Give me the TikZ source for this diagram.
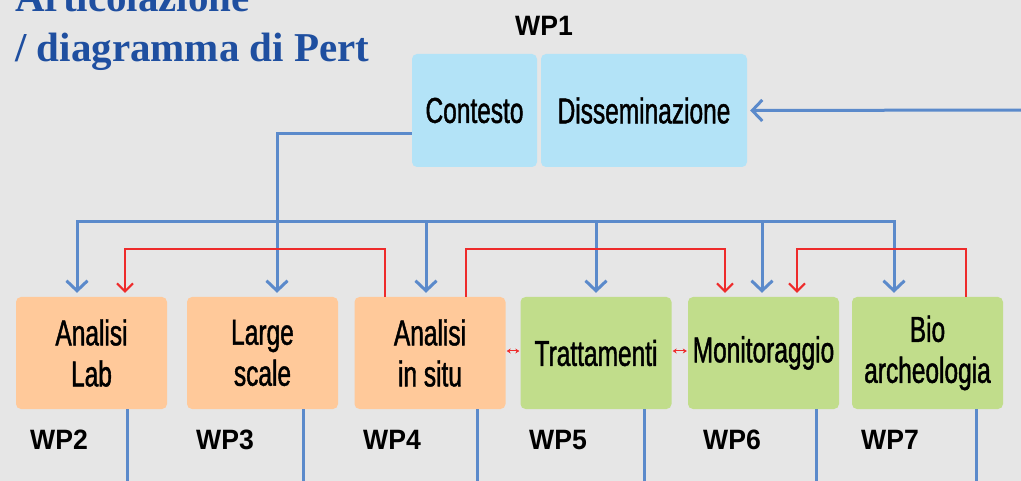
\documentclass[tikz,border=0pt]{standalone}
\usepackage{fontspec}
\usepackage{xcolor}
\usepackage{tikz}
\usetikzlibrary{arrows.meta,positioning,calc}
\setmainfont{Liberation Sans}
\newfontfamily\boxfont[FakeStretch=0.68,FakeBold=1.2]{Liberation Sans}
\newfontfamily\wpfont[FakeStretch=0.95]{Liberation Sans}
\newfontfamily\titlefont{Liberation Serif}
\definecolor{pertBg}{HTML}{E6E6E6}
\definecolor{pertTitle}{HTML}{1F4FA0}
\definecolor{pertBlue}{HTML}{5B8ACB}
\definecolor{pertRed}{HTML}{EE2B2B}
\definecolor{pertSky}{HTML}{B3E3F7}
\definecolor{pertPeach}{HTML}{FFC99A}
\definecolor{pertGreen}{HTML}{C1DD8B}

\begin{document}
\begin{tikzpicture}[x=1pt,y=-1pt,
  wp/.style={rounded corners=5pt, inner sep=0pt, align=center,
    minimum width=151pt, minimum height=112pt,
    font=\boxfont\fontsize{36}{41}\selectfont},
  top/.style={wp, fill=pertSky, minimum height=113pt},
  lab/.style={wp, fill=pertPeach},
  fld/.style={wp, fill=pertGreen},
  tag/.style={anchor=west, inner sep=0pt, font=\wpfont\bfseries\fontsize{28}{30}\selectfont},
  bl/.style={pertBlue, line width=3pt},
  rd/.style={pertRed, line width=2pt},
  blarr/.style={bl, -{Straight Barb[length=10pt,width=21pt,line width=3pt]}, shorten >=4pt},
  rdarr/.style={rd, -{Straight Barb[length=8pt,width=16pt,line width=2pt]}, shorten >=4pt},
  link/.style={pertRed, line width=1pt, {Stealth[length=4pt,width=5pt]}-{Stealth[length=4pt,width=5pt]}, shorten <=1pt, shorten >=1pt}]
\fill[pertBg] (0,0) rectangle (1021,481);
\useasboundingbox (0,0) rectangle (1021,481);
% title (first line cut by the page edge)
\node[anchor=base west, inner sep=0pt, align=left, text=pertTitle,
  font=\titlefont\bfseries\fontsize{41}{50}\selectfont] (title) at (15,62)
  {Articolazione\\/ diagramma di Pert};
% WP1
\node[tag, anchor=center] (wp1tag) at (544,26) {WP1};
\node[top, minimum width=125pt] (ctx) at (474.5,110.5) {Contesto};
\node[top, minimum width=206pt] (dis) at (644,110.5) {Disseminazione};
% work packages
\node[lab] (wp2) at (91.5,353) {Analisi\\Lab};
\node[lab] (wp3) at (262.5,353) {Large\\scale};
\node[lab] (wp4) at (430,353) {Analisi\\in situ};
\node[fld] (wp5) at (596,353) {Trattamenti};
\node[fld] (wp6) at (763.5,353) {Monitoraggio};
\node[fld] (wp7) at (927.5,353) {Bio\\archeologia};
\node[tag] (wp2tag) at (30,440) {WP2};
\node[tag] (wp3tag) at (196,440) {WP3};
\node[tag] (wp4tag) at (363,440) {WP4};
\node[tag] (wp5tag) at (529,440) {WP5};
\node[tag] (wp6tag) at (703,440) {WP6};
\node[tag] (wp7tag) at (861,440) {WP7};
\coordinate (redge) at (1025,110);
\coordinate (bus) at (277,222);
\coordinate (bottom) at (0,490);
% blue flow from WP1
\draw[blarr] (redge) -- ([xshift=-1pt]dis.east);
\draw[bl] ([yshift=-23.5pt]ctx.west) -| (bus);
\draw[blarr] (bus) -- ([xshift=14.5pt]wp3.north);
\draw[blarr] (bus) -| ([xshift=-14.5pt]wp2.north);
\draw[blarr] (bus) -| ([xshift=-4pt]wp4.north);
\draw[blarr] (bus) -| (wp5.north);
\draw[blarr] (bus) -| ([xshift=-1.5pt]wp6.north);
\draw[blarr] (bus) -| ([xshift=-33.5pt]wp7.north);
% red dependencies
\draw[rdarr] ([xshift=-45pt]wp4.north) |- +(0,-48) -| ([xshift=33.5pt]wp2.north);
\draw[rdarr] ([xshift=36pt]wp4.north) |- +(0,-48) -| ([xshift=-38.5pt]wp6.north);
\draw[rdarr] ([xshift=38.5pt]wp7.north) |- +(0,-48) -| ([xshift=33.5pt]wp6.north);
\draw[link] ([yshift=2pt]wp4.east) -- ([yshift=2pt]wp5.west);
\draw[link] ([yshift=2pt]wp5.east) -- ([yshift=2pt]wp6.west);
% outputs
\foreach \n/\dx in {wp2/35.5, wp3/40.5, wp4/47, wp5/48, wp6/52.5, wp7/48.5}
  \draw[bl] ([xshift=\dx pt]\n.south) -- ([xshift=\dx pt]\n.south |- bottom);
\end{tikzpicture}
\end{document}
